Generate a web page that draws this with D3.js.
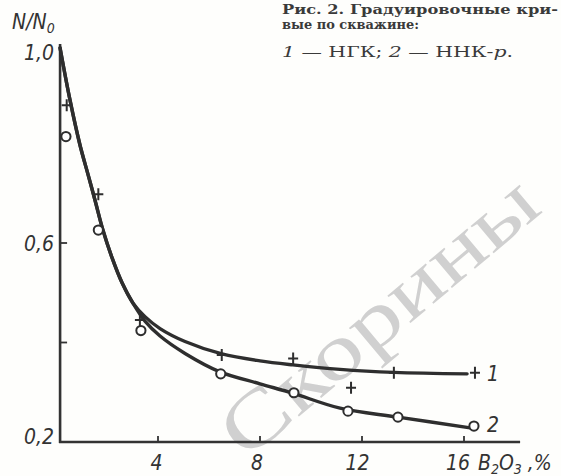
<!DOCTYPE html>
<html><head><meta charset="utf-8">
<script src="https://cdn.jsdelivr.net/npm/d3@7"></script>
<style>
html,body{margin:0;padding:0;background:#fff;}
svg{display:block;}
</style></head>
<body>
<svg id="chart" width="561" height="476"></svg>
<script>
// ---- data ----
const xTickValues = [4, 8, 12, 16];
const xTickLabels = ["4", "8", "12", "16"];
const yTickValues = [0.4, 0.6];
const yLabelValues = [0.2, 0.6, 1.0];
const yLabelTexts = ["0,2", "0,6", "1,0"];

// Series 1 — НГК (crosses)
const ngkX = [0.42, 1.66, 3.29, 6.5, 9.3, 11.57, 13.25, 16.43];
const ngkY = [0.877, 0.698, 0.445, 0.375, 0.368, 0.309, 0.339, 0.339];
// Series 2 — ННК-р (circles)
const nnkX = [0.39, 1.66, 3.33, 6.46, 9.33, 11.45, 13.41, 16.39];
const nnkY = [0.814, 0.626, 0.424, 0.337, 0.299, 0.262, 0.250, 0.232];

// Fitted calibration curves
const commonX = [0.16, 0.55, 0.94, 1.26, 1.53, 1.84, 2.2, 2.59, 3.02];
const commonY = [0.992, 0.887, 0.797, 0.737, 0.686, 0.626, 0.570, 0.520, 0.479];
const curve1X = [3.49, 4.08, 5.06, 6.51, 8.0, 9.29, 11.14, 13.26, 16.12];
const curve1Y = [0.452, 0.428, 0.402, 0.377, 0.363, 0.355, 0.346, 0.340, 0.337];
const curve2X = [3.49, 4.08, 5.06, 6.43, 8.0, 9.29, 11.14, 13.41, 16.31];
const curve2Y = [0.443, 0.413, 0.378, 0.341, 0.317, 0.298, 0.268, 0.250, 0.228];

const captionLines = ["Рис. 2. Градуировочные кри-", "вые по скважине:"];

// ---- drawing ----
const svg = d3.select("#chart");
const ink = "#333";
const x = d3.scaleLinear().domain([0, 16]).range([56, 464]);
const y = d3.scaleLinear().domain([0.2, 1.0]).range([442, 44]);
const xAxisStart = 0.16, xAxisEnd = 18.2;

svg.append("rect").attr("width", 561).attr("height", 476).attr("fill", "#fefefc");

// watermark
svg.append("text")
  .attr("transform", "translate(380,318) rotate(-40)")
  .attr("text-anchor", "middle")
  .attr("dy", "0.3em")
  .attr("font-family", "Liberation Serif, serif")
  .attr("font-size", 78)
  .attr("fill", "#d0d0d0")
  .attr("textLength", 390)
  .attr("lengthAdjust", "spacingAndGlyphs")
  .text("Скорины");

// axes lines
svg.append("line")
  .attr("x1", x(xAxisStart)).attr("x2", x(xAxisStart))
  .attr("y1", y(0.2) + 1).attr("y2", y(1.0))
  .attr("stroke", ink).attr("stroke-width", 2.6);
svg.append("line")
  .attr("x1", x(xAxisStart) - 1).attr("x2", x(xAxisEnd))
  .attr("y1", y(0.2)).attr("y2", y(0.2))
  .attr("stroke", ink).attr("stroke-width", 2.6);

// ticks (inside)
svg.selectAll(".xt").data(xTickValues).enter().append("line")
  .attr("x1", d => x(d)).attr("x2", d => x(d))
  .attr("y1", y(0.2)).attr("y2", y(0.2) - 6)
  .attr("stroke", ink).attr("stroke-width", 1.8);
svg.selectAll(".yt").data(yTickValues).enter().append("line")
  .attr("x1", x(xAxisStart)).attr("x2", x(xAxisStart) + 7)
  .attr("y1", d => y(d)).attr("y2", d => y(d))
  .attr("stroke", ink).attr("stroke-width", 1.8);

const labFont = "Liberation Sans Narrow, DejaVu Sans Condensed, sans-serif";
// x labels
svg.selectAll(".xl").data(xTickValues).enter().append("text")
  .attr("x", d => x(d) - d * 0.38).attr("y", 470)
  .attr("text-anchor", "middle")
  .attr("font-family", labFont).attr("font-style", "italic")
  .attr("font-size", 21).attr("fill", ink)
  .text((d, i) => xTickLabels[i]);
// y labels
const yLabelDy = [2, 8, 16];
svg.selectAll(".yl").data(yLabelValues).enter().append("text")
  .attr("x", 54).attr("y", (d, i) => y(d) + yLabelDy[i])
  .attr("text-anchor", "end")
  .attr("font-family", labFont).attr("font-style", "italic")
  .attr("font-size", 21).attr("fill", ink)
  .text((d, i) => yLabelTexts[i]);

// axis titles
const yt = svg.append("text").attr("x", 12).attr("y", 29)
  .attr("font-family", labFont).attr("font-style", "italic")
  .attr("font-size", 21).attr("fill", ink);
yt.append("tspan").text("N/N");
yt.append("tspan").attr("font-size", 14).attr("dy", 4).text("0");

const xt = svg.append("text").attr("x", 478).attr("y", 470)
  .attr("font-family", labFont).attr("font-style", "italic")
  .attr("font-size", 21).attr("fill", ink);
xt.append("tspan").text("B");
xt.append("tspan").attr("font-size", 14).attr("dy", 4).text("2");
xt.append("tspan").attr("dy", -4).text("O");
xt.append("tspan").attr("font-size", 14).attr("dy", 4).text("3");
xt.append("tspan").attr("dy", -4).text(" ,%");

// curves
const line = d3.line().x(d => x(d[0])).y(d => y(d[1])).curve(d3.curveCatmullRom.alpha(0.5));
const common = commonX.map((v, i) => [v, commonY[i]]);
const c1 = common.concat(curve1X.map((v, i) => [v, curve1Y[i]]));
const c2 = common.concat(curve2X.map((v, i) => [v, curve2Y[i]]));
[c1, c2].forEach(pts => {
  svg.append("path").attr("d", line(pts))
    .attr("fill", "none").attr("stroke", "#2e2e2e")
    .attr("stroke-width", 3.4).attr("stroke-linecap", "round");
});

// markers: crosses
const ngk = ngkX.map((v, i) => [v, ngkY[i]]);
svg.selectAll(".cross").data(ngk).enter().append("path")
  .attr("d", d => {
    const cx = x(d[0]), cy = y(d[1]);
    return `M${cx - 5},${cy}H${cx + 5}M${cx},${cy - 6}V${cy + 6}`;
  })
  .attr("stroke", "#2e2e2e").attr("stroke-width", 2).attr("fill", "none");
// markers: circles
const nnk = nnkX.map((v, i) => [v, nnkY[i]]);
svg.selectAll(".circ").data(nnk).enter().append("circle")
  .attr("cx", d => x(d[0])).attr("cy", d => y(d[1])).attr("r", 4.6)
  .attr("fill", "#fff").attr("stroke", "#2e2e2e").attr("stroke-width", 2);

// curve numbers
svg.append("text").attr("x", 487).attr("y", y(0.339) + 8)
  .attr("font-family", labFont).attr("font-style", "italic")
  .attr("font-size", 21).attr("fill", ink).text("1");
svg.append("text").attr("x", 487).attr("y", y(0.232) + 6)
  .attr("font-family", labFont).attr("font-style", "italic")
  .attr("font-size", 21).attr("fill", ink).text("2");

// caption
const capFont = "DejaVu Serif, Liberation Serif, serif";
svg.append("text").attr("x", 282).attr("y", 14)
  .attr("font-family", capFont).attr("font-weight", "bold")
  .attr("font-size", 13.5).attr("fill", "#3a3a3a")
  .attr("textLength", 276).attr("lengthAdjust", "spacingAndGlyphs")
  .text(captionLines[0]);
svg.append("text").attr("x", 282).attr("y", 29)
  .attr("font-family", capFont).attr("font-weight", "bold")
  .attr("font-size", 13.5).attr("fill", "#3a3a3a")
  .attr("textLength", 137).attr("lengthAdjust", "spacingAndGlyphs")
  .text(captionLines[1]);
const leg = svg.append("text").attr("x", 282).attr("y", 57)
  .attr("font-family", capFont)
  .attr("font-size", 14.5).attr("fill", "#3a3a3a")
  .attr("textLength", 231).attr("lengthAdjust", "spacingAndGlyphs");
leg.append("tspan").attr("font-style", "italic").text("1");
leg.append("tspan").text(" — НГК;  ");
leg.append("tspan").attr("font-style", "italic").text("2");
leg.append("tspan").text(" — ННК-");
leg.append("tspan").attr("font-style", "italic").text("р");
leg.append("tspan").text(".");
</script>
</body></html>
